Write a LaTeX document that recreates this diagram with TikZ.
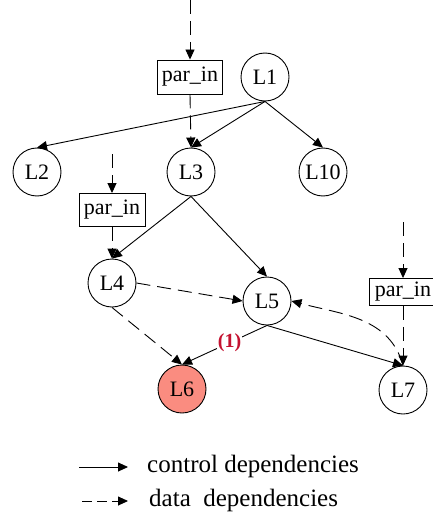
\documentclass[tikz,border=0pt]{standalone}
\usepackage{fontspec}
\setmainfont{Liberation Serif}
\usetikzlibrary{arrows.meta}
\definecolor{hot}{RGB}{250,140,128}
\definecolor{marker}{RGB}{196,18,48}
\tikzset{
  every picture/.style={x=1pt,y=-1pt},
  loop/.style={circle,draw,line width=0.9pt,minimum size=48pt,inner sep=0pt,
    font=\fontsize{22}{26}\selectfont},
  param/.style={rectangle,draw,line width=0.9pt,minimum width=65pt,minimum height=34pt,
    inner sep=0pt,font=\fontsize{22}{26}\selectfont},
  ctrl/.style={line width=0.9pt,-{Triangle[length=10pt,width=9pt]}},
  data/.style={line width=0.9pt,dash pattern=on 14pt off 7pt,-{Triangle[length=10pt,width=9pt]}},
  legend/.style={anchor=west,inner sep=0pt,font=\fontsize{25}{29}\selectfont},
}
\begin{document}
\begin{tikzpicture}
\useasboundingbox (0,0) rectangle (432,516);

% loop nodes
\node[loop] (L1) at (265,77) {L1};
\node[loop] (L2) at (37,172) {L2};
\node[loop] (L3) at (191,172) {L3};
\node[loop] (L10) at (323,172) {L10};
\node[loop] (L4) at (112,283) {L4};
\node[loop] (L5) at (267,301) {L5};
\node[loop,fill=hot] (L6) at (182,389) {L6};
\node[loop] (L7) at (403,390) {L7};

% parameter inputs
\node[param] (P1) at (190,77) {par\_in};
\node[param,minimum width=66pt,minimum height=33pt] (P2) at (112,210) {par\_in};
\node[param,minimum width=68pt,minimum height=27pt] (P3) at (403,292) {par\_in};
\coordinate (in1) at (190,0);
\coordinate (in2) at (112,154);
\coordinate (in3) at (403,222);

% control dependencies
\draw[ctrl] (L1.south) -- (L2.north);
\draw[ctrl] (L1.south) -- (L3.north);
\draw[ctrl] (L1.south) -- (L10.north);
\draw[ctrl] (L3.south) -- (L4.north);
\draw[ctrl] (L3.south) -- (L5.north);
\draw[ctrl] (L5.south) -- node[pos=0.44,fill=white,inner sep=1pt,text=marker,
  font=\bfseries\fontsize{20}{24}\selectfont] {(1)} (L6.north);
\draw[ctrl] (L5.south) -- (L7.north);

% data dependencies
\draw[data] (in1) -- (P1.north);
\draw[data] (P1.south) -- (L3.north);
\draw[data] (in2) -- (P2.north);
\draw[data] (P2.south) -- (L4.north);
\draw[data] (in3) -- (P3.north);
\draw[data] (P3.south) -- (L7.north);
\draw[data] (L4.east) -- (L5.west);
\draw[data] (L4.south) -- (L6.north);
\draw[data] (L7.north) to[out=105,in=-15] (L5.east);

% legend
\coordinate (a1) at (79,467);
\coordinate (b1) at (128,467);
\coordinate (a2) at (82,501);
\coordinate (b2) at (128,501);
\draw[ctrl] (a1) -- (b1);
\draw[data,dash pattern=on 10pt off 5pt] (a2) -- (b2);
\node[legend] (t1) at (147,466) {control dependencies};
\node[legend] (t2) at (149,500) {data\ \ dependencies};
\end{tikzpicture}
\end{document}
